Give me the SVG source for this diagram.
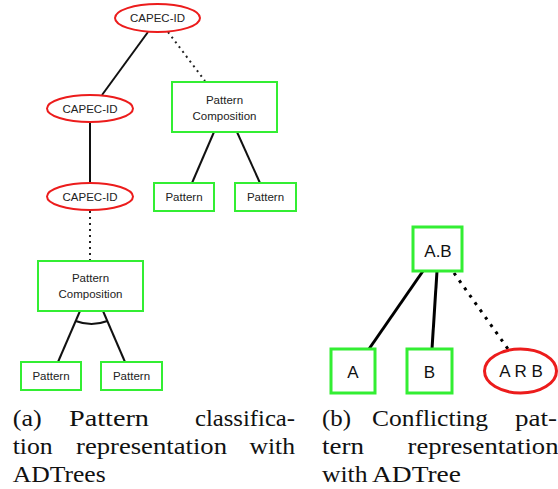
<svg xmlns="http://www.w3.org/2000/svg" width="558" height="489" viewBox="0 0 558 489">
<style>
.ell{fill:#fff;stroke:#ec1c1c;stroke-width:2}
.box{fill:#fff;stroke:#33ee33;stroke-width:2}
.ellb{fill:#fff;stroke:#ec1c1c;stroke-width:3}
.boxb{fill:#fff;stroke:#33ee33;stroke-width:3}
.lbl{font-family:"Liberation Sans",Arial,sans-serif;font-size:11.5px;fill:#222;text-anchor:middle}
.lblb{font-family:"Liberation Sans",Arial,sans-serif;font-size:17px;fill:#111;text-anchor:middle}
.ln{stroke:#111;stroke-width:2;fill:none}
.lnb{stroke:#000;stroke-width:3;fill:none}
.dot{stroke:#222;stroke-width:2;stroke-dasharray:2 4;fill:none}
.dotb{stroke:#000;stroke-width:3;stroke-dasharray:3 6;fill:none}
.cap{font-family:"Liberation Serif","Times New Roman",serif;font-size:23px;fill:#111}
</style>
<g id="connectors">
<line class="ln" x1="148" y1="32" x2="102" y2="95"/>
<line class="dot" x1="168" y1="32" x2="205" y2="81"/>
<line class="ln" x1="90" y1="122" x2="90" y2="183"/>
<line class="ln" x1="214" y1="132" x2="192" y2="183"/>
<line class="ln" x1="237" y1="132" x2="260" y2="183"/>
<line class="dot" x1="90" y1="211" x2="90" y2="260"/>
<line class="ln" x1="80" y1="311" x2="58" y2="362"/>
<line class="ln" x1="103" y1="311" x2="125" y2="362"/>
<path class="ln" d="M75.6,321 Q91.5,327 107.4,321"/>
<line class="lnb" x1="423" y1="271" x2="369" y2="349"/>
<line class="lnb" x1="437" y1="271" x2="432" y2="349"/>
<line class="dotb" x1="454" y1="273" x2="508" y2="349"/>
</g>
<g id="capec1"><ellipse class="ell" cx="157.5" cy="18" rx="42.5" ry="14"/><text class="lbl" x="157.5" y="22">CAPEC-ID</text></g>
<g id="capec2"><ellipse class="ell" cx="90" cy="108.5" rx="43" ry="13.5"/><text class="lbl" x="90" y="112.5">CAPEC-ID</text></g>
<g id="capec3"><ellipse class="ell" cx="90" cy="196.5" rx="43" ry="13.5"/><text class="lbl" x="90" y="200.5">CAPEC-ID</text></g>
<g id="comp1"><rect class="box" x="172" y="82" width="105" height="50"/><text class="lbl" x="224.5" y="104">Pattern</text><text class="lbl" x="224.5" y="120">Composition</text></g>
<g id="pat1"><rect class="box" x="154" y="183" width="60" height="28"/><text class="lbl" x="184" y="201">Pattern</text></g>
<g id="pat2"><rect class="box" x="235" y="183" width="61" height="28"/><text class="lbl" x="265.5" y="201">Pattern</text></g>
<g id="comp2"><rect class="box" x="38" y="261" width="105" height="50"/><text class="lbl" x="90.5" y="282">Pattern</text><text class="lbl" x="90.5" y="298">Composition</text></g>
<g id="pat3"><rect class="box" x="21" y="362" width="60" height="28"/><text class="lbl" x="51" y="380">Pattern</text></g>
<g id="pat4"><rect class="box" x="101" y="362" width="61" height="28"/><text class="lbl" x="131.5" y="380">Pattern</text></g>
<g id="ab"><rect class="boxb" x="413" y="227" width="49" height="44"/><text class="lblb" x="438" y="257">A.B</text></g>
<g id="a"><rect class="boxb" x="331" y="349" width="44" height="44"/><text class="lblb" x="353" y="378">A</text></g>
<g id="b"><rect class="boxb" x="407" y="349" width="45" height="44"/><text class="lblb" x="429.5" y="378">B</text></g>
<g id="arb"><ellipse class="ellb" cx="520.5" cy="371" rx="36" ry="22"/><text class="lblb" x="521" y="377">A R B</text></g>
<g id="caption-a">
<text class="cap" x="12.7" y="426" textLength="29" lengthAdjust="spacingAndGlyphs">(a)</text>
<text class="cap" x="69" y="426" textLength="80" lengthAdjust="spacingAndGlyphs">Pattern</text>
<text class="cap" x="195" y="426" textLength="100" lengthAdjust="spacingAndGlyphs">classifica-</text>
<text class="cap" x="12.7" y="454" textLength="40" lengthAdjust="spacingAndGlyphs">tion</text>
<text class="cap" x="76" y="454" textLength="151" lengthAdjust="spacingAndGlyphs">representation</text>
<text class="cap" x="249.5" y="454" textLength="45.5" lengthAdjust="spacingAndGlyphs">with</text>
<text class="cap" x="12.7" y="482" textLength="93" lengthAdjust="spacingAndGlyphs">ADTrees</text>
</g>
<g id="caption-b">
<text class="cap" x="322" y="426" textLength="29" lengthAdjust="spacingAndGlyphs">(b)</text>
<text class="cap" x="372" y="426" textLength="116" lengthAdjust="spacingAndGlyphs">Conflicting</text>
<text class="cap" x="515" y="426" textLength="42" lengthAdjust="spacingAndGlyphs">pat-</text>
<text class="cap" x="322" y="454" textLength="42" lengthAdjust="spacingAndGlyphs">tern</text>
<text class="cap" x="407.5" y="454" textLength="151" lengthAdjust="spacingAndGlyphs">representation</text>
<text class="cap" x="322" y="482" textLength="45.5" lengthAdjust="spacingAndGlyphs">with</text>
<text class="cap" x="372" y="482" textLength="89" lengthAdjust="spacingAndGlyphs">ADTree</text>
</g>
</svg>
